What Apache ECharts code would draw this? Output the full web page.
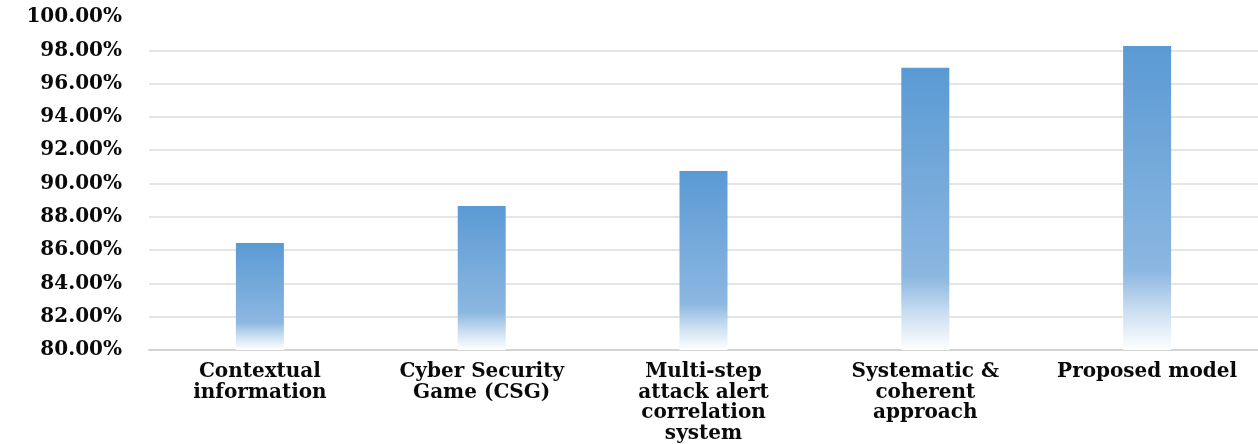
<!DOCTYPE html>
<html>
<head>
<meta charset="utf-8">
<script src="https://cdn.jsdelivr.net/npm/echarts@6/dist/echarts.min.js"></script>
<style>
html,body{margin:0;padding:0;background:#fff;}
#c{width:1258px;height:444px;}
</style>
</head>
<body>
<div id="c"></div>
<script>
const categories = [
  "Contextual\ninformation",
  "Cyber Security\nGame (CSG)",
  "Multi-step\nattack alert\ncorrelation\nsystem",
  "Systematic &\ncoherent\napproach",
  "Proposed model"
];
const accuracy = [86.43, 88.65, 90.75, 96.95, 98.26];
const yMin = 80, yMax = 100, yStep = 2;

const chart = echarts.init(document.getElementById('c'), null, {renderer: 'canvas'});
const font = "'DejaVu Serif', 'Liberation Serif', serif";
chart.setOption({
  backgroundColor: '#ffffff',
  animation: false,
  grid: {left: 149, right: 0, top: 17, bottom: 93, containLabel: false},
  xAxis: {
    type: 'category',
    data: categories,
    axisLine: {show: true, lineStyle: {color: '#d4d4d4', width: 2}},
    axisTick: {show: false},
    axisLabel: {
      interval: 0, margin: 12, color: '#0a0a0a',
      fontFamily: font, fontWeight: 'bold', fontSize: 20, lineHeight: 20.5
    }
  },
  yAxis: {
    type: 'value', min: yMin, max: yMax, interval: yStep,
    axisLine: {show: false}, axisTick: {show: false},
    splitLine: {show: true, showMaxLine: false, lineStyle: {color: '#dcdcdc', width: 1.5}},
    axisLabel: {
      margin: 27, color: '#0a0a0a',
      fontFamily: font, fontWeight: 'bold', fontSize: 20,
      formatter: v => v.toFixed(2) + '%'
    }
  },
  series: [{
    type: 'bar',
    data: accuracy,
    barWidth: 48,
    itemStyle: {
      color: new echarts.graphic.LinearGradient(0, 0, 0, 1, [
        {offset: 0, color: '#5a9ad4'},
        {offset: 0.74, color: '#8cb7e1'},
        {offset: 0.87, color: '#cadef1'},
        {offset: 1, color: '#ffffff'}
      ])
    }
  }]
});
</script>
</body>
</html>
